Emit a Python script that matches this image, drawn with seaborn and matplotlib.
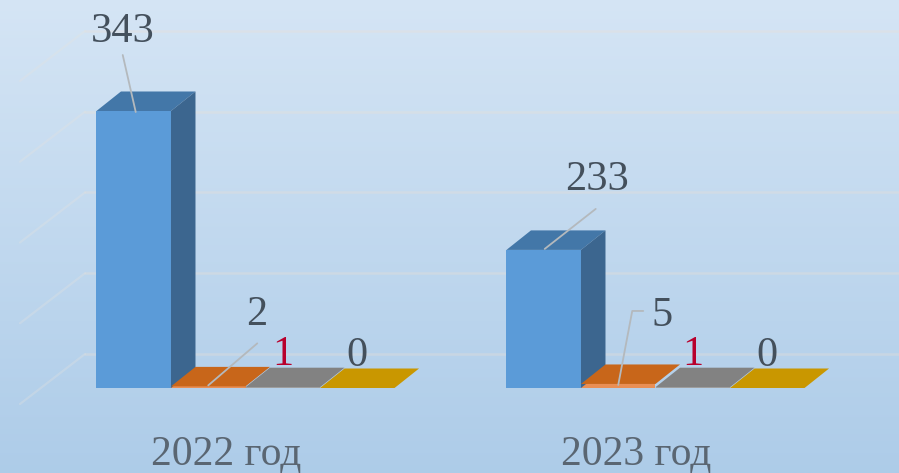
import numpy as np
import pandas as pd
import seaborn as sns
import matplotlib.pyplot as plt
from matplotlib.patches import Polygon

years = ['2022 год', '2023 год']
categories = ['a', 'b', 'c', 'd']
# bar heights as drawn, the 2023 blue bar is shorter than its label says
heights_2022 = [343, 2, 1, 0]
heights_2023 = [171, 5, 1, 0]
labels_2022 = ['343', '2', '1', '0']
labels_2023 = ['233', '5', '1', '0']
grid_values = [0, 100, 200, 300, 400]

front_colors = ['#5b9bd8', '#e98f55', '#a5a5a5', '#f0b400']
top_colors = ['#4377a8', '#c8661a', '#828282', '#c99700']
side_colors = ['#3c668f', '#a8560f', '#6e6e6e', '#a88000']
label_colors = ['#44505c', '#44505c', '#b8002c', '#44505c']

# pixel scale of the picture
W, H = 899, 473
base_px = 388
px_per_group = 410
px_per_unit = 0.8076


def dx(px):
    return px / px_per_group


def dy(px):
    return px / px_per_unit


df = pd.DataFrame({
    'year': np.repeat(years, 4),
    'category': categories * 2,
    'value': heights_2022 + heights_2023,
})

sns.set_theme(style='white')
plt.rcParams['font.family'] = ['Liberation Serif', 'DejaVu Serif']

fig = plt.figure(figsize=(W / 100, H / 100), dpi=100)

# gradient background
bg = fig.add_axes([0, 0, 1, 1], zorder=-1)
grad = np.linspace(0, 1, 256).reshape(-1, 1)
top = np.array([0.835, 0.898, 0.960])
bottom = np.array([0.680, 0.800, 0.912])
bg.imshow(top + (bottom - top) * grad[:, :, None], aspect='auto')
bg.axis('off')

ax = fig.add_axes([0, (H - base_px) / H, 1, base_px / H])
ax.patch.set_alpha(0)
sns.barplot(data=df, x='year', y='value', hue='category', hue_order=categories,
            palette=front_colors, width=0.727, gap=0, saturation=1, legend=False,
            linewidth=0, ax=ax)

ax.set_xlim(-245.5 / px_per_group, (W - 245.5) / px_per_group)
ax.set_ylim(0, base_px / px_per_unit)
ax.set_xlabel('')
ax.set_ylabel('')
ax.set_yticks([])
ax.set_xticks([0 - dx(19.5), 1 - dx(19.5)])
ax.set_xticklabels(years, fontsize=30, color='#5a6672')
ax.tick_params(axis='x', length=0, pad=34)
sns.despine(ax=ax, left=True, bottom=True)

# back wall and side wall lines
for v in grid_values:
    y = v + dy(34)
    ax.plot([dx(85 - 245.5), dx(W - 245.5)], [y, y], color='#eadfd6', alpha=0.35,
            lw=1.8, zorder=0.5, clip_on=False)
    ax.plot([dx(85 - 245.5), dx(20 - 245.5)], [y, y - dy(50)], color='#e6e3df', alpha=0.3,
            lw=1.6, zorder=0.5, clip_on=False)

# fake 3d depth on each bar
depth_x, depth_y = dx(24.5), dy(19.5)
for i, container in enumerate(ax.containers):
    for bar in container:
        x0 = bar.get_x()
        x1 = x0 + bar.get_width()
        h = bar.get_height()
        ax.add_patch(Polygon([(x0, h), (x1, h), (x1 + depth_x, h + depth_y), (x0 + depth_x, h + depth_y)],
                             closed=True, fc=top_colors[i], ec='none', zorder=1.2))
        if h > 10:
            ax.add_patch(Polygon([(x1, 0), (x1 + depth_x, depth_y), (x1 + depth_x, h + depth_y), (x1, h)],
                                 closed=True, fc=side_colors[i], ec='none', zorder=1.2))

# label offsets in px from the bar's top centre
text_offsets = [[(-11, 79), (49, 72), (0, 32), (0, 32)],
                [(53, 70), (44, 68), (0, 32), (0, 32)]]
leaders = [[[(-11, 56), (2, -1)], [(49, 43), (0, 1)], None, None],
           [[(52, 41), (1, 1)], [(25, 73), (14, 73), (0, -1)], None, None]]

for g, group_labels in enumerate([labels_2022, labels_2023]):
    for i, text in enumerate(group_labels):
        bar = ax.containers[i][g]
        cx = bar.get_x() + bar.get_width() / 2
        h = bar.get_height()
        ox, oy = text_offsets[g][i]
        ax.text(cx + dx(ox), h + dy(oy), text, ha='center', va='center', fontsize=30.5,
                color=label_colors[i], zorder=4)
        if leaders[g][i] is not None:
            xs = [cx + dx(p[0]) for p in leaders[g][i]]
            ys = [h + dy(p[1]) for p in leaders[g][i]]
            ax.plot(xs, ys, color='#b4b9bd', lw=1.3, zorder=3)

plt.savefig('out.png', dpi=100)
